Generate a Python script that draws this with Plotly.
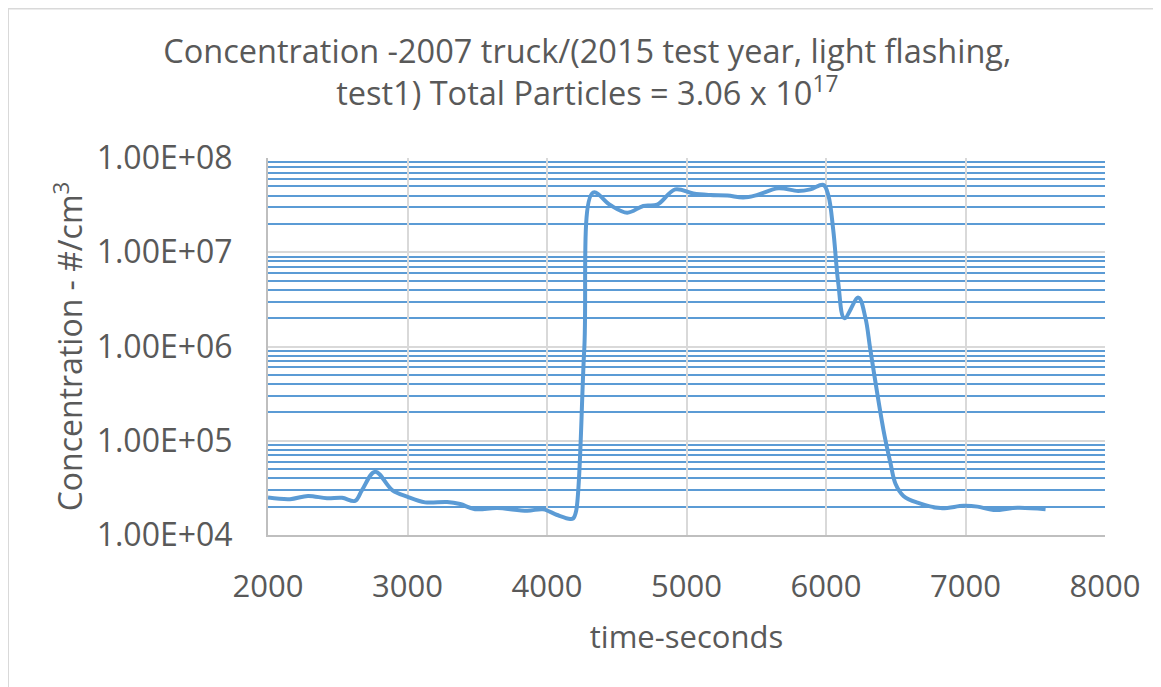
import plotly.graph_objects as go

# time in seconds
tempo = [2000, 2158, 2287, 2423, 2531, 2624, 2674, 2768, 2890, 2997,
         3126, 3284, 3377, 3485, 3643, 3858, 3973, 4073, 4166, 4188,
         4209, 4267, 4331, 4453, 4575, 4690, 4790, 4919, 5049, 5171,
         5293, 5407, 5508, 5657, 5800, 5888, 5981, 6017, 6052, 6088,
         6132, 6232, 6283, 6318, 6412, 6462, 6498, 6555, 6656, 6821,
         6986, 7086, 7201, 7373, 7574]
# concentration #/cm3
conc = [2.5e4, 2.4e4, 2.6e4, 2.45e4, 2.48e4, 2.3e4, 3.0e4, 4.7e4, 3.0e4, 2.55e4,
        2.22e4, 2.24e4, 2.13e4, 1.88e4, 1.93e4, 1.81e4, 1.87e4, 1.63e4, 1.48e4, 1.5e4,
        1.8e4, 9.3e5, 4.3e7, 3.17e7, 2.63e7, 3.1e7, 3.2e7, 4.65e7, 4.2e7, 4.05e7,
        4.0e7, 3.8e7, 4.05e7, 4.77e7, 4.47e7, 4.65e7, 5.18e7, 4.0e7, 1.72e7, 4.7e6,
        2.0e6, 3.3e6, 2.0e6, 9.2e5, 1.3e5, 5.8e4, 3.5e4, 2.6e4, 2.2e4, 1.93e4,
        2.04e4, 2.0e4, 1.84e4, 1.95e4, 1.88e4]

y_tick_vals = [1e4, 1e5, 1e6, 1e7, 1e8]
y_tick_text = ["1.00E+04", "1.00E+05", "1.00E+06", "1.00E+07", "1.00E+08"]
x_ticks = [2000, 3000, 4000, 5000, 6000, 7000, 8000]

testo = "#595959"
font = "Open Sans"

fig = go.Figure()
fig.add_trace(go.Scatter(x=tempo, y=conc, mode="lines",
                         line=dict(color="#5B9BD5", width=4, shape="spline", smoothing=1),
                         showlegend=False, hoverinfo="x+y"))

# chart border (left and top only visible); page body adds an 8px offset
bx = (0 - 260) / 837
by = (527 - 0.5) / 377
fig.add_shape(type="line", xref="paper", yref="paper",
              x0=bx, x1=1.1, y0=by, y1=by, line=dict(color="#d9d9d9", width=2))
fig.add_shape(type="line", xref="paper", yref="paper",
              x0=bx, x1=bx, y0=-0.5, y1=by, line=dict(color="#d9d9d9", width=2))

fig.update_layout(
    width=1161, height=687,
    margin=dict(l=260, r=64, t=150, b=160, autoexpand=False),
    paper_bgcolor="white", plot_bgcolor="white",
    font=dict(family=font, color=testo, size=31),
    title=dict(text="Concentration -2007 truck/(2015 test year, light flashing,<br>test1) Total Particles = 3.06 x 10<sup>17</sup>",
               x=0.499, xanchor="center", y=1 - 55 / 687, yanchor="middle", yref="container",
               font=dict(family=font, size=32.5, color=testo)),
)

fig.update_xaxes(range=[2000, 8000], tickvals=x_ticks, showgrid=True,
                 gridcolor="#d9d9d9", gridwidth=2, zeroline=False,
                 showline=True, linecolor="#bfbfbf", linewidth=2,
                 ticks="", ticklabelstandoff=23, automargin=False,
                 tickfont=dict(size=31, color=testo),
                 title=dict(text="time-seconds", font=dict(size=31, color=testo), standoff=21))

fig.update_yaxes(type="log", range=[4, 8], tickvals=y_tick_vals, ticktext=y_tick_text,
                 showgrid=True, gridcolor="#d9d9d9", gridwidth=2, zeroline=False,
                 showline=True, linecolor="#bfbfbf", linewidth=2,
                 ticks="", ticklabelstandoff=27, automargin=False,
                 minor=dict(tickmode="linear", dtick="D1", showgrid=True,
                            gridcolor="#5B9BD5", gridwidth=2),
                 tickfont=dict(size=32, color=testo),
                 title=dict(text="Concentration - #/cm<sup>3</sup>", font=dict(size=32, color=testo), standoff=4))

fig.write_html("out.html")
